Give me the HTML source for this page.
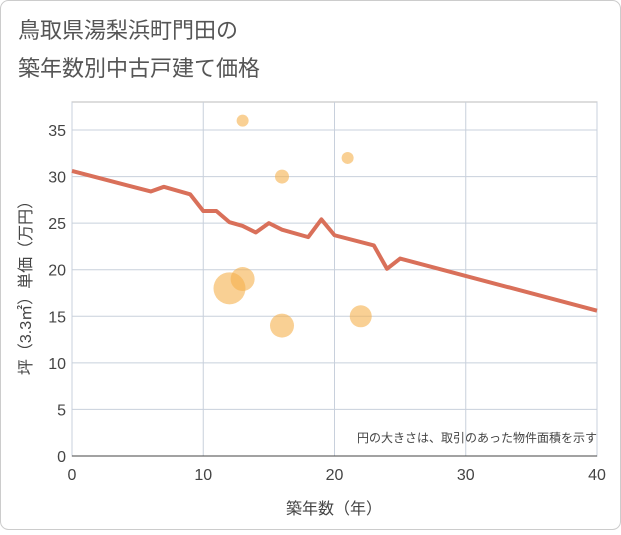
<!DOCTYPE html>
<html><head><meta charset="utf-8"><style>
body{margin:0;background:#fff;}
svg text{font-family:"Liberation Sans","Noto Sans CJK JP",sans-serif;}
</style></head><body>
<svg id="c" width="621" height="530" xmlns="http://www.w3.org/2000/svg">
<rect x="0.5" y="0.5" width="620" height="529" rx="8" fill="#fff" stroke="#ccc"/>
<text x="18" y="38" font-size="22" fill="#555">鳥取県湯梨浜町門田の</text>
<text x="18" y="76" font-size="22" fill="#555">築年数別中古戸建て価格</text>
<g id="grid"></g>
<g id="axes"></g>
<g id="marks"></g>
<text x="597" y="442" font-size="12" fill="#444" text-anchor="end">円の大きさは、取引のあった物件面積を示す</text>
<text x="334" y="514" font-size="16" fill="#444" text-anchor="middle">築年数（年）</text>
<text transform="translate(31,284) rotate(-90)" font-size="16" fill="#444" text-anchor="middle">坪（3.3㎡）単価（万円）</text>
</svg>
<script>
const xTicks=[0,10,20,30,40];
const yTicks=[0,5,10,15,20,25,30,35];
const lineX=[0,6,7,9,10,11,12,13,14,15,16,18,19,20,23,24,25,40];
const lineY=[30.6,28.4,28.9,28.1,26.3,26.3,25.1,24.7,24.0,25.0,24.3,23.5,25.4,23.7,22.6,20.1,21.2,15.6];
const bubX=[13,21,16,13,12,16,22];
const bubY=[36,32,30,19,18,14,15];
const bubR=[6,6,7,12,16,12,11];
const L=72,R=597,T=102,B=456;
const sx=v=>L+(v/40)*(R-L);
const sy=v=>B-(v/35)*(B-130);
const NS="http://www.w3.org/2000/svg";
function mk(p,t,a){const e=document.createElementNS(NS,t);for(const k in a)e.setAttribute(k,a[k]);document.getElementById(p).appendChild(e);return e;}
let e=mk('grid','rect',{x:L,y:T,width:R-L,height:B-T,fill:'none',stroke:'#bbb'});


xTicks.forEach(v=>{const g=mk('grid','line',{x1:sx(v),x2:sx(v),y1:T,y2:B,stroke:'#c8d0dc'});


const t=mk('axes','text',{x:sx(v),y:B+24,'font-size':16,fill:'#444','text-anchor':'middle'});t.textContent=v;

});
yTicks.forEach(v=>{const g=mk('grid','line',{x1:L,x2:R,y1:sy(v),y2:sy(v),stroke:'#c8d0dc'});


const t=mk('axes','text',{x:L-6,y:sy(v)+6,'font-size':16,fill:'#444','text-anchor':'end'});t.textContent=v;

});
const ax=mk('axes','line',{x1:L,x2:R,y1:B,y2:B,stroke:'#444'});


bubX.forEach((x,i)=>{const c=mk('marks','circle',{cx:sx(x),cy:sy(bubY[i]),r:bubR[i],fill:'#f5b14d','fill-opacity':0.6});

});
const pl=mk('marks','polyline',{points:lineX.map((x,i)=>sx(x)+','+sy(lineY[i])).join(' '),fill:'none',stroke:'#d9705a','stroke-width':4,'stroke-linejoin':'round'});


</script>
</body></html>
